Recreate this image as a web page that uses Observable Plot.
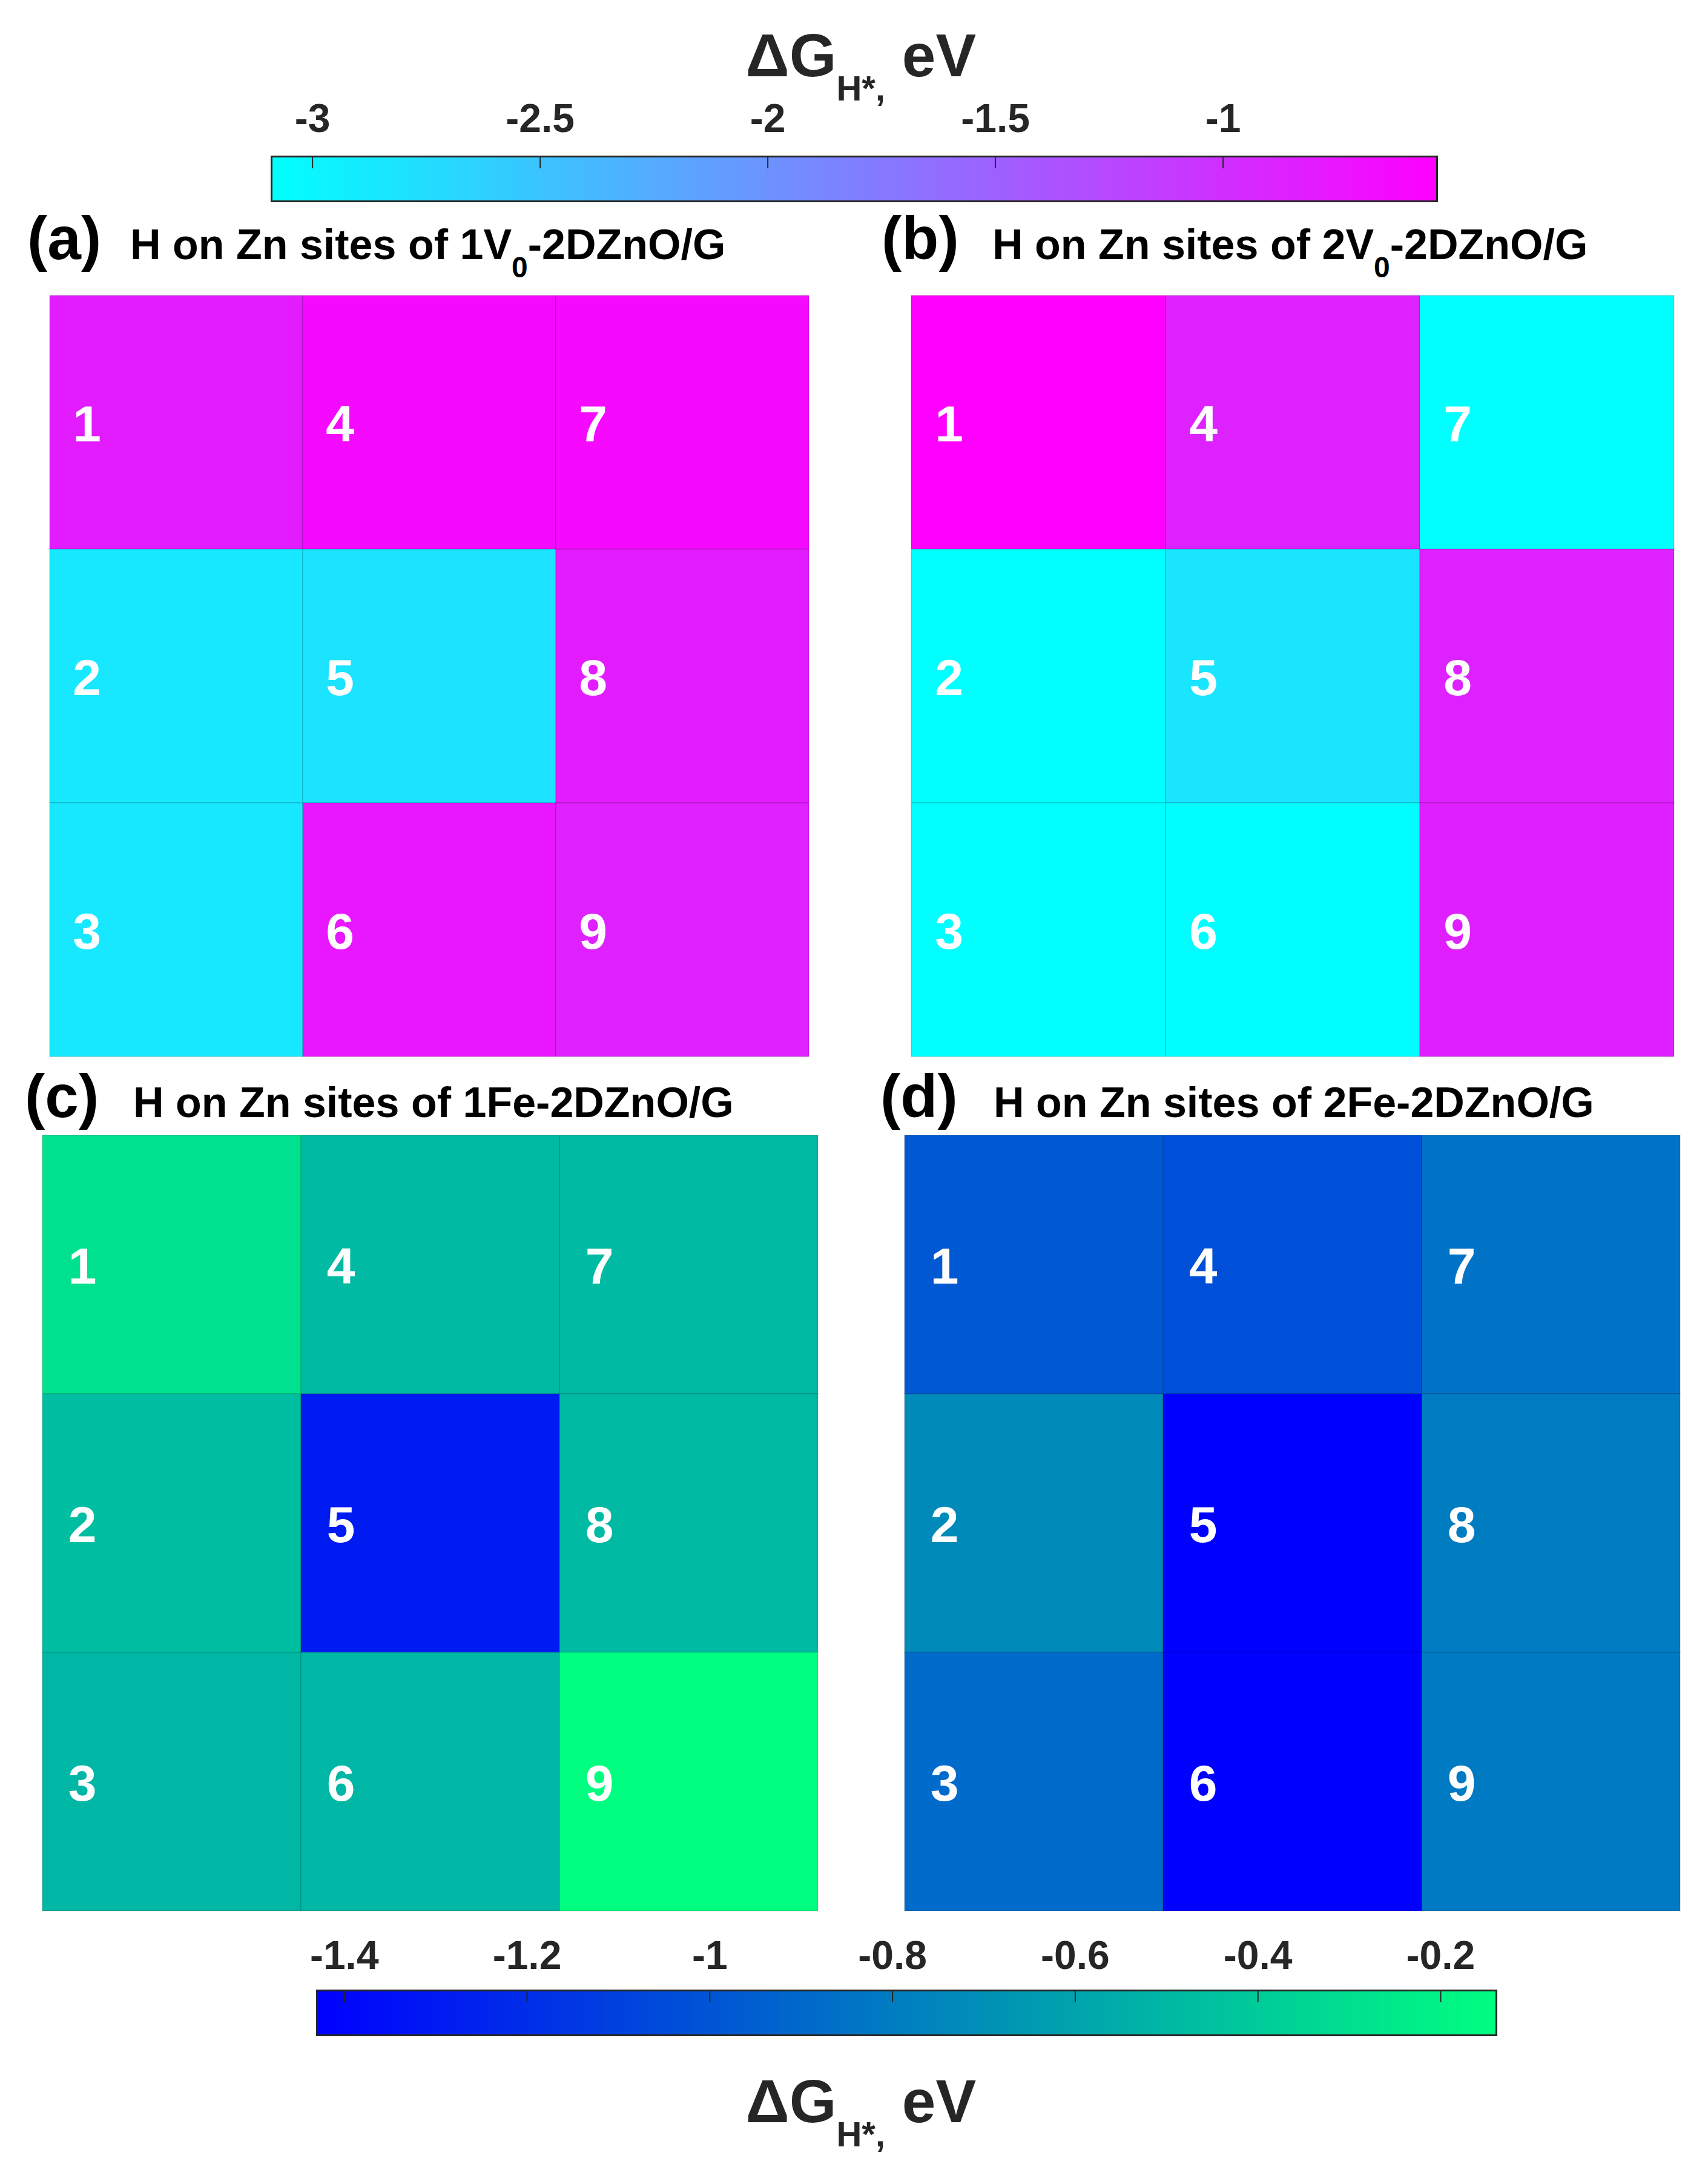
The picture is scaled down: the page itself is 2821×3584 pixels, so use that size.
<!DOCTYPE html>
<html>
<head>
<meta charset="utf-8">
<script src="https://cdn.jsdelivr.net/npm/d3@7"></script>
<script src="https://cdn.jsdelivr.net/npm/@observablehq/plot@0.6"></script>
<style>
  body { margin: 0; background: #fff; }
  #root { position: relative; width: 2821px; height: 3584px; background: #fff; overflow: hidden;
          font-family: "Liberation Sans", Arial, sans-serif; }
</style>
</head>
<body>
<div id="root"></div>
<script>
// ---------------- DATA ----------------
const sites = [1, 2, 3, 4, 5, 6, 7, 8, 9];           // sites 1-3 column 1, 4-6 column 2, 7-9 column 3
const valuesA = [-0.81, -2.86, -2.86, -0.63, -2.81, -0.76, -0.63, -0.81, -0.85]; // 1V0-2DZnO/G
const valuesB = [-0.53, -3.09, -3.09, -0.86, -2.83, -3.08, -3.09, -0.86, -0.84]; // 2V0-2DZnO/G
const valuesC = [-0.29, -0.47, -0.51, -0.49, -1.30, -0.51, -0.49, -0.49, -0.14]; // 1Fe-2DZnO/G
const valuesD = [-0.98, -0.73, -0.89, -1.03, -1.43, -1.43, -0.85, -0.80, -0.81]; // 2Fe-2DZnO/G
const topTicks = [-3, -2.5, -2, -1.5, -1];
const bottomTicks = [-1.4, -1.2, -1, -0.8, -0.6, -0.4, -0.2];
const topDomain = [-3.09, -0.53];
const bottomDomain = [-1.43, -0.139];
const panelLabels = ["(a)", "(b)", "(c)", "(d)"];
const panelTitles = [
  ["H on Zn sites of 1V", "0", "-2DZnO/G"],
  ["H on Zn sites of 2V", "0", "-2DZnO/G"],
  ["H on Zn sites of 1Fe-2DZnO/G", "", ""],
  ["H on Zn sites of 2Fe-2DZnO/G", "", ""]
];
const colorbarTitle = ["\u0394G", "H*,", " eV"];

// ---------------- LAYOUT ----------------
const FONT = "Liberation Sans, Arial, sans-serif";
const root = document.getElementById("root");
function place(el, left, top) {
  el.style.position = "absolute";
  el.style.left = left + "px";
  el.style.top = top + "px";
  root.appendChild(el);
}

const coolScale = {type: "linear", domain: topDomain, range: ["#00ffff", "#ff00ff"], interpolate: "rgb", clamp: true};
const winterScale = {type: "linear", domain: bottomDomain, range: ["#0000ff", "#00ff80"], interpolate: "rgb", clamp: true};

// text overlay
const overlay = d3.create("svg").attr("width", 2821).attr("height", 3584)
  .style("font-family", FONT).style("font-weight", "bold");
function bigTitle(y) {
  const t = overlay.append("text").attr("x", 1422).attr("y", y).attr("text-anchor", "middle")
    .attr("font-size", 100).attr("fill", "#262626");
  t.append("tspan").text(colorbarTitle[0]);
  t.append("tspan").attr("dy", 40).attr("font-size", 58).text(colorbarTitle[1]);
  t.append("tspan").attr("dy", -40).text(colorbarTitle[2]);
}
bigTitle(126);
bigTitle(3505);

const titlePos = [
  {lx: 45, tx: 215, y: 428},
  {lx: 1456, tx: 1639, y: 428},
  {lx: 41, tx: 220, y: 1845},
  {lx: 1454, tx: 1641, y: 1845}
];
panelLabels.forEach((lab, i) => {
  const p = titlePos[i];
  overlay.append("text").attr("x", p.lx).attr("y", p.y).attr("font-size", 100).attr("fill", "#000").text(lab);
  const t = overlay.append("text").attr("x", p.tx).attr("y", p.y).attr("font-size", 70).attr("fill", "#000");
  const [pre, sub, post] = panelTitles[i];
  t.append("tspan").text(pre);
  if (sub) {
    t.append("tspan").attr("dy", 30).attr("font-size", 48).text(sub);
    t.append("tspan").attr("dy", -30).text(post);
  }
});
place(overlay.node(), 0, 0);

// heatmaps
function heatmap(values, colorScale, w, h) {
  const data = sites.map((s, i) => ({site: s, col: Math.floor(i / 3) + 1, row: (i % 3) + 1, value: values[i]}));
  return Plot.plot({
    width: w, height: h, margin: 0,
    style: {fontFamily: FONT, background: "transparent", overflow: "visible"},
    x: {type: "band", domain: [1, 2, 3], padding: 0, axis: null},
    y: {type: "band", domain: [1, 2, 3], padding: 0, axis: null},
    color: colorScale,
    marks: [
      Plot.cell(data, {x: "col", y: "row", fill: "value", inset: 0, stroke: "#000", strokeOpacity: 0.1, strokeWidth: 2}),
      Plot.text(data, {x: "col", y: "row", text: d => String(d.site), fill: "white", fontSize: 84,
                       fontWeight: "bold", fontFamily: FONT, dx: -148, dy: 4})
    ]
  });
}
place(heatmap(valuesA, coolScale, 1255, 1258), 81, 487);
place(heatmap(valuesB, coolScale, 1262, 1258), 1504, 487);
place(heatmap(valuesC, winterScale, 1282, 1283), 69, 1874);
place(heatmap(valuesD, winterScale, 1283, 1283), 1493, 1874);

// colorbars
function colorbar(domain, colorScale, ticks, mLeft, mRight, mTop, barH, labelDy) {
  return Plot.plot({
    width: 2821, height: mTop + barH + 6,
    marginLeft: mLeft, marginRight: mRight, marginTop: mTop, marginBottom: 6,
    style: {fontFamily: FONT, background: "transparent", overflow: "visible"},
    x: {domain, axis: null},
    y: {domain: [0, 1], axis: null},
    color: colorScale,
    marks: [
      Plot.raster({fill: (x, y) => x, x1: domain[0], x2: domain[1], y1: 0, y2: 1, pixelSize: 1}),
      Plot.tickX(ticks, {x: d => d, stroke: "#262626", strokeWidth: 2, insetBottom: barH - 20}),
      Plot.frame({stroke: "#262626", strokeWidth: 3}),
      Plot.text(ticks, {x: d => d, text: d => String(d), frameAnchor: "top", lineAnchor: "middle", dy: labelDy,
                        fontSize: 66, fontWeight: "bold", fill: "#262626", fontFamily: FONT})
    ]
  });
}
place(colorbar(topDomain, coolScale, topTicks, 448, 448, 108, 74, -62), 0, 150);
place(colorbar(bottomDomain, winterScale, bottomTicks, 523, 350, 127, 74, -57), 0, 3160);
</script>
</body>
</html>
